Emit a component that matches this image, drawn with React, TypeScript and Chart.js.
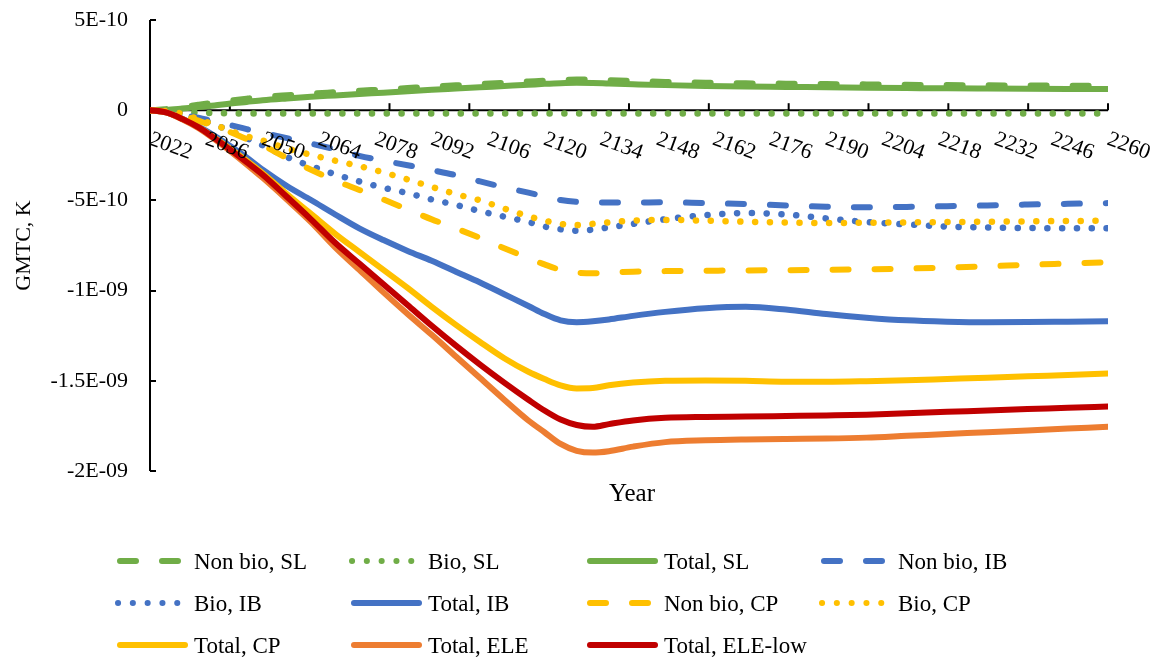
import React, { useEffect, useRef } from "react";
import { Chart, registerables } from "chart.js";

Chart.register(...registerables);

// Values are in units of 1E-10 K
const years = [2022, 2026, 2030, 2034, 2038, 2042, 2046, 2050, 2056, 2062, 2068, 2074, 2080, 2086, 2092, 2098, 2104, 2110, 2116, 2120, 2124, 2128, 2132, 2136, 2142, 2150, 2160, 2170, 2180, 2190, 2200, 2210, 2220, 2230, 2240, 2250, 2260];

const nonBioSL = [0, 0.06, 0.18, 0.3, 0.42, 0.54, 0.64, 0.73, 0.83, 0.92, 1.0, 1.08, 1.15, 1.23, 1.31, 1.38, 1.45, 1.52, 1.59, 1.64, 1.68, 1.7, 1.69, 1.66, 1.62, 1.57, 1.52, 1.49, 1.47, 1.45, 1.43, 1.41, 1.39, 1.38, 1.37, 1.36, 1.35];
const bioSL = [0, -0.05, -0.1, -0.14, -0.16, -0.17, -0.18, -0.18, -0.18, -0.18, -0.18, -0.18, -0.18, -0.18, -0.18, -0.18, -0.18, -0.18, -0.18, -0.18, -0.18, -0.18, -0.18, -0.18, -0.18, -0.18, -0.18, -0.18, -0.18, -0.18, -0.18, -0.18, -0.18, -0.18, -0.18, -0.18, -0.18];
const totalSL = [0, 0.02, 0.09, 0.17, 0.26, 0.37, 0.46, 0.55, 0.65, 0.74, 0.82, 0.9, 0.97, 1.05, 1.13, 1.2, 1.27, 1.34, 1.41, 1.46, 1.5, 1.52, 1.51, 1.48, 1.44, 1.39, 1.34, 1.31, 1.29, 1.27, 1.25, 1.23, 1.21, 1.2, 1.19, 1.18, 1.17];

const nonBioIB = [0, -0.08, -0.25, -0.42, -0.62, -0.83, -1.05, -1.25, -1.55, -1.85, -2.17, -2.53, -2.8, -3.05, -3.32, -3.6, -3.95, -4.27, -4.57, -4.78, -4.98, -5.08, -5.1, -5.12, -5.12, -5.1, -5.15, -5.2, -5.28, -5.35, -5.38, -5.36, -5.32, -5.28, -5.23, -5.19, -5.15];
const bioIB = [0, -0.05, -0.22, -0.48, -0.8, -1.15, -1.55, -1.95, -2.6, -3.1, -3.55, -3.95, -4.3, -4.6, -4.95, -5.25, -5.6, -5.9, -6.2, -6.45, -6.6, -6.68, -6.62, -6.5, -6.3, -6.05, -5.82, -5.7, -5.78, -6.0, -6.2, -6.33, -6.45, -6.5, -6.53, -6.54, -6.54];
const totalIB = [0, -0.12, -0.47, -0.9, -1.42, -2.0, -2.62, -3.3, -4.2, -4.98, -5.78, -6.55, -7.2, -7.8, -8.35, -8.95, -9.55, -10.2, -10.85, -11.3, -11.65, -11.75, -11.7, -11.6, -11.4, -11.18, -10.98, -10.9, -11.05, -11.3, -11.5, -11.65, -11.72, -11.75, -11.74, -11.72, -11.7];

const nonBioCP = [0, -0.08, -0.28, -0.58, -0.9, -1.22, -1.6, -1.95, -2.65, -3.3, -3.9, -4.42, -4.95, -5.5, -6.05, -6.55, -7.08, -7.65, -8.2, -8.55, -8.85, -9.0, -9.04, -9.0, -8.95, -8.92, -8.9, -8.88, -8.87, -8.85, -8.82, -8.78, -8.72, -8.65, -8.57, -8.5, -8.43];
const bioCP = [0, -0.05, -0.2, -0.5, -0.8, -1.15, -1.45, -1.68, -2.12, -2.47, -2.8, -3.1, -3.45, -3.84, -4.25, -4.65, -5.0, -5.45, -5.88, -6.12, -6.3, -6.37, -6.3, -6.22, -6.12, -6.08, -6.12, -6.18, -6.23, -6.25, -6.24, -6.22, -6.2, -6.18, -6.16, -6.14, -6.13];
const totalCP = [0, -0.12, -0.48, -0.94, -1.53, -2.15, -2.8, -3.5, -4.65, -5.75, -6.85, -7.85, -8.85, -9.85, -10.9, -11.9, -12.85, -13.75, -14.5, -14.9, -15.25, -15.42, -15.4, -15.25, -15.1, -15.0, -14.98, -15.0, -15.05, -15.05, -15.02, -14.97, -14.9, -14.83, -14.75, -14.68, -14.6];

const totalELE = [0, -0.12, -0.5, -0.98, -1.6, -2.28, -3.0, -3.75, -4.95, -6.2, -7.6, -8.85, -10.1, -11.3, -12.45, -13.65, -14.85, -16.05, -17.2, -17.85, -18.5, -18.88, -18.98, -18.9, -18.65, -18.4, -18.3, -18.25, -18.22, -18.2, -18.15, -18.05, -17.95, -17.85, -17.75, -17.65, -17.55];
const totalELELow = [0, -0.12, -0.48, -0.94, -1.55, -2.2, -2.88, -3.58, -4.8, -6.05, -7.35, -8.5, -9.65, -10.8, -11.95, -13.05, -14.1, -15.1, -16.05, -16.65, -17.15, -17.45, -17.55, -17.4, -17.2, -17.05, -17.0, -16.98, -16.95, -16.92, -16.88, -16.8, -16.72, -16.65, -16.57, -16.5, -16.42];

const xTickLabels = ["2022", "2036", "2050", "2064", "2078", "2092", "2106", "2120", "2134", "2148", "2162", "2176", "2190", "2204", "2218", "2232", "2246", "2260"];
const yTickValues = [5, 0, -5, -10, -15, -20];
const yTickLabels = ["5E-10", "0", "-5E-10", "-1E-09", "-1.5E-09", "-2E-09"];

const GREEN = "#70AD47";
const BLUE = "#4472C4";
const YELLOW = "#FFC000";
const ORANGE = "#ED7D31";
const RED = "#C00000";

type Style = "dash" | "dot" | "solid";

const SERIES: { label: string; values: number[]; color: string; style: Style }[] = [
  { label: "Non bio, SL", values: nonBioSL, color: GREEN, style: "dash" },
  { label: "Bio, SL", values: bioSL, color: GREEN, style: "dot" },
  { label: "Total, SL", values: totalSL, color: GREEN, style: "solid" },
  { label: "Non bio, IB", values: nonBioIB, color: BLUE, style: "dash" },
  { label: "Bio, IB", values: bioIB, color: BLUE, style: "dot" },
  { label: "Total, IB", values: totalIB, color: BLUE, style: "solid" },
  { label: "Non bio, CP", values: nonBioCP, color: YELLOW, style: "dash" },
  { label: "Bio, CP", values: bioCP, color: YELLOW, style: "dot" },
  { label: "Total, CP", values: totalCP, color: YELLOW, style: "solid" },
  { label: "Total, ELE", values: totalELE, color: ORANGE, style: "solid" },
  { label: "Total, ELE-low", values: totalELELow, color: RED, style: "solid" },
];

const DASH = [16, 26];
const DOT = [0.1, 14.7];
const FONT = '"Liberation Serif", "Times New Roman", serif';

function dashFor(s: Style): number[] {
  return s === "dash" ? DASH : s === "dot" ? DOT : [];
}
function widthFor(s: Style): number {
  return s === "solid" ? 6 : s === "dot" ? 6.5 : 6;
}

const overlay = {
  id: "overlay",
  beforeDatasetsDraw(chart: any) {
    const { ctx, chartArea, scales } = chart;
    const y = scales.y;
    const y0 = y.getPixelForValue(0);
    ctx.save();
    ctx.strokeStyle = "#000";
    ctx.lineWidth = 2;
    ctx.lineCap = "butt";
    ctx.setLineDash([]);
    ctx.beginPath();
    ctx.moveTo(chartArea.left, chartArea.top);
    ctx.lineTo(chartArea.left, chartArea.bottom);
    ctx.stroke();
    yTickValues.forEach((v) => {
      const py = Math.round(y.getPixelForValue(v));
      ctx.beginPath();
      ctx.moveTo(chartArea.left, py);
      ctx.lineTo(chartArea.left + 6, py);
      ctx.stroke();
    });
    ctx.beginPath();
    ctx.moveTo(chartArea.left, y0);
    ctx.lineTo(chartArea.right, y0);
    ctx.stroke();
    const n = 12;
    for (let k = 1; k <= n; k++) {
      const px = chartArea.left + ((chartArea.right - chartArea.left) * k) / n;
      ctx.beginPath();
      ctx.moveTo(px, y0);
      ctx.lineTo(px, y0 - 7);
      ctx.stroke();
    }
    ctx.restore();
  },
  afterDatasetsDraw(chart: any) {
    const { ctx, scales } = chart;
    const x = scales.x;
    const y0 = scales.y.getPixelForValue(0);
    ctx.save();
    ctx.font = `22px ${FONT}`;
    ctx.fillStyle = "#000";
    ctx.textAlign = "left";
    ctx.textBaseline = "alphabetic";
    xTickLabels.forEach((lbl) => {
      const px = x.getPixelForValue(Number(lbl));
      ctx.save();
      ctx.translate(px - 2, y0 + 34);
      ctx.rotate((20 * Math.PI) / 180);
      ctx.fillText(lbl, 0, 0);
      ctx.restore();
    });
    ctx.restore();
  },
  afterDraw(chart: any) {
    const { ctx, chartArea } = chart;
    ctx.save();
    ctx.fillStyle = "#000";
    ctx.font = `25px ${FONT}`;
    ctx.textAlign = "center";
    ctx.textBaseline = "alphabetic";
    ctx.fillText("Year", (chartArea.left + chartArea.right) / 2 + 3, 501);
    ctx.save();
    ctx.font = `22px ${FONT}`;
    ctx.translate(30, (chartArea.top + chartArea.bottom) / 2);
    ctx.rotate(-Math.PI / 2);
    ctx.fillText("GMTC, K", 0, 0);
    ctx.restore();
    const colX = [117, 351, 587, 821];
    const rowY = [561, 603, 645];
    ctx.font = `23px ${FONT}`;
    ctx.textAlign = "left";
    chart.data.datasets.forEach((ds: any, i: number) => {
      const s: Style = SERIES[i].style;
      const cx = colX[i % 4];
      const cy = rowY[Math.floor(i / 4)];
      ctx.save();
      ctx.strokeStyle = ds.borderColor;
      ctx.lineWidth = 6;
      ctx.lineCap = "round";
      ctx.setLineDash(dashFor(s));
      ctx.beginPath();
      if (s === "dot") {
        ctx.moveTo(cx + 1, cy);
        ctx.lineTo(cx + 64, cy);
      } else {
        ctx.moveTo(cx + 3, cy);
        ctx.lineTo(cx + 68, cy);
      }
      ctx.stroke();
      ctx.restore();
      ctx.fillText(ds.label, cx + 77, cy + 8);
    });
    ctx.restore();
  },
};

export default function App() {
  const ref = useRef<HTMLCanvasElement | null>(null);
  useEffect(() => {
    document.body.style.margin = "0";
    if (!ref.current) return;
    const datasets = SERIES.map((s, i) => ({
      label: s.label,
      data: years.map((yr, j) => ({ x: yr, y: s.values[j] })),
      borderColor: s.color,
      backgroundColor: s.color,
      borderWidth: widthFor(s.style),
      borderDash: dashFor(s.style),
      borderCapStyle: "round" as const,
      borderJoinStyle: "round" as const,
      pointRadius: 0,
      pointHoverRadius: 0,
      fill: false,
      cubicInterpolationMode: "monotone" as const,
      order: SERIES.length - i,
    }));
    const chart = new Chart(ref.current, {
      type: "line",
      data: { datasets },
      options: {
        animation: false,
        responsive: true,
        maintainAspectRatio: false,
        events: [],
        layout: { padding: { left: 0, right: 45, top: 20, bottom: 190 } },
        plugins: { legend: { display: false }, tooltip: { enabled: false }, title: { display: false } },
        scales: {
          x: {
            type: "linear",
            min: 2022,
            max: 2260,
            position: { y: 0 } as any,
            grid: { display: false, drawTicks: false },
            border: { display: false },
            ticks: { display: false },
            afterFit: (scale: any) => {
              scale.height = 0;
              scale.paddingTop = 0;
              scale.paddingBottom = 0;
              scale.paddingLeft = 0;
              scale.paddingRight = 0;
            },
          },
          y: {
            type: "linear",
            min: -20,
            max: 5,
            grid: { display: false, drawTicks: false },
            border: { display: false },
            ticks: {
              stepSize: 5,
              padding: 22,
              color: "#000",
              font: { family: FONT, size: 22 },
              callback: (v: any) => {
                const idx = yTickValues.indexOf(Number(v));
                return idx >= 0 ? yTickLabels[idx] : "";
              },
            },
            afterFit: (scale: any) => {
              scale.width = 150;
              scale.paddingTop = 0;
              scale.paddingBottom = 0;
            },
          },
        },
      },
      plugins: [overlay],
    });
    return () => chart.destroy();
  }, []);
  return (
    <div style={{ width: 1153, height: 661, position: "relative", background: "#fff" }}>
      <canvas ref={ref} />
    </div>
  );
}
